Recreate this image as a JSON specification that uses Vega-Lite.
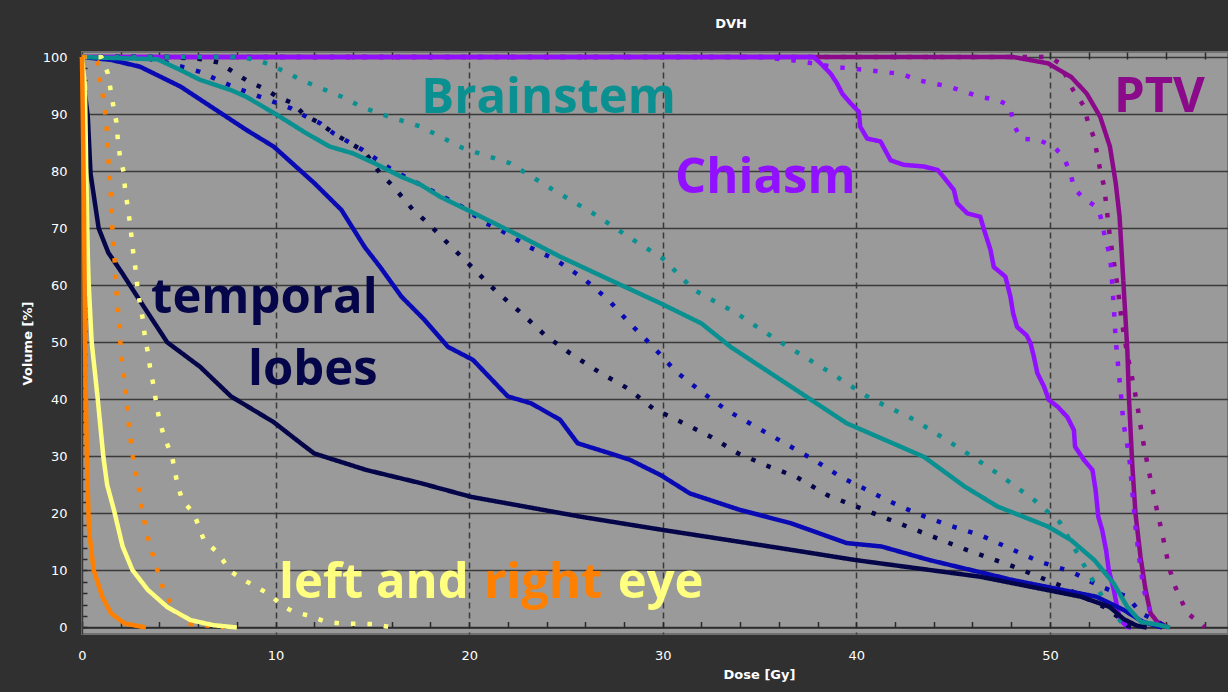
{
  "$schema": "https://vega.github.io/schema/vega-lite/v6.json",
  "width": 1146,
  "height": 582,
  "autosize": {"type": "none"},
  "padding": {"left": 82, "top": 52, "right": 0, "bottom": 58},
  "background": "#303030",
  "title": {"text": "DVH", "color": "#ffffff", "font": "DejaVu Sans", "fontSize": 13, "fontWeight": "bold", "anchor": "middle", "dx": 76, "offset": 20},
  "config": {
    "view": {"fill": "#9a9a9a", "stroke": "#707070", "strokeWidth": 2},
    "axis": {"labelColor": "#ffffff", "labelFont": "DejaVu Sans", "labelFontSize": 13, "titleColor": "#ffffff", "titleFont": "DejaVu Sans", "titleFontSize": 13, "titleFontWeight": "bold", "labelOverlap": false, "labelFlush": false}
  },
  "datasets": {
    "curves": [
      {"s":"PTV","p":"B","d":0,"v":100},{"s":"PTV","p":"B","d":50.0,"v":100},{"s":"PTV","p":"B","d":50.5,"v":98.9},{"s":"PTV","p":"B","d":51.2,"v":94.2},{"s":"PTV","p":"B","d":51.75,"v":91.4},{"s":"PTV","p":"B","d":51.96,"v":88.7},{"s":"PTV","p":"B","d":52.27,"v":85.9},{"s":"PTV","p":"B","d":52.44,"v":83.0},{"s":"PTV","p":"B","d":52.6,"v":80.1},{"s":"PTV","p":"B","d":52.8,"v":77.3},{"s":"PTV","p":"B","d":52.9,"v":74.4},{"s":"PTV","p":"B","d":53.0,"v":71.4},{"s":"PTV","p":"B","d":53.1,"v":68.5},{"s":"PTV","p":"B","d":53.5,"v":59.7},{"s":"PTV","p":"B","d":53.7,"v":53.9},{"s":"PTV","p":"B","d":54.0,"v":47.8},{"s":"PTV","p":"B","d":54.2,"v":44.6},{"s":"PTV","p":"B","d":54.5,"v":39.3},{"s":"PTV","p":"B","d":54.77,"v":33.4},{"s":"PTV","p":"B","d":55.1,"v":27.6},{"s":"PTV","p":"B","d":55.45,"v":21.8},{"s":"PTV","p":"B","d":55.8,"v":16.5},{"s":"PTV","p":"B","d":56.15,"v":10.7},{"s":"PTV","p":"B","d":56.4,"v":7.7},{"s":"PTV","p":"B","d":56.7,"v":5.4},{"s":"PTV","p":"B","d":57.1,"v":2.5},{"s":"PTV","p":"B","d":57.8,"v":0.7},{"s":"PTV","p":"B","d":58.0,"v":0},
      {"s":"PTV","p":"A","d":0,"v":100},{"s":"PTV","p":"A","d":48.1,"v":100},{"s":"PTV","p":"A","d":49.9,"v":98.9},{"s":"PTV","p":"A","d":51.1,"v":96.5},{"s":"PTV","p":"A","d":51.9,"v":93.6},{"s":"PTV","p":"A","d":52.6,"v":89.5},{"s":"PTV","p":"A","d":53.1,"v":84.3},{"s":"PTV","p":"A","d":53.4,"v":77.9},{"s":"PTV","p":"A","d":53.6,"v":72.0},{"s":"PTV","p":"A","d":53.75,"v":63.2},{"s":"PTV","p":"A","d":53.9,"v":54.5},{"s":"PTV","p":"A","d":54.0,"v":48.6},{"s":"PTV","p":"A","d":54.08,"v":40.5},{"s":"PTV","p":"A","d":54.25,"v":28.8},{"s":"PTV","p":"A","d":54.42,"v":20.0},{"s":"PTV","p":"A","d":54.68,"v":12.4},{"s":"PTV","p":"A","d":54.94,"v":6.6},{"s":"PTV","p":"A","d":55.2,"v":2.5},{"s":"PTV","p":"A","d":55.54,"v":1.0},{"s":"PTV","p":"A","d":55.9,"v":0.4},{"s":"PTV","p":"A","d":56.1,"v":0},
      {"s":"Chiasm","p":"B","d":0,"v":100},{"s":"Chiasm","p":"B","d":35.0,"v":100},{"s":"Chiasm","p":"B","d":36.8,"v":99.4},{"s":"Chiasm","p":"B","d":38.8,"v":98.3},{"s":"Chiasm","p":"B","d":40.6,"v":97.7},{"s":"Chiasm","p":"B","d":42.4,"v":97.0},{"s":"Chiasm","p":"B","d":43.1,"v":96.0},{"s":"Chiasm","p":"B","d":44.8,"v":94.8},{"s":"Chiasm","p":"B","d":46.4,"v":93.0},{"s":"Chiasm","p":"B","d":47.3,"v":92.5},{"s":"Chiasm","p":"B","d":47.96,"v":91.3},{"s":"Chiasm","p":"B","d":48.1,"v":88.4},{"s":"Chiasm","p":"B","d":48.5,"v":85.7},{"s":"Chiasm","p":"B","d":49.4,"v":85.5},{"s":"Chiasm","p":"B","d":50.2,"v":84.3},{"s":"Chiasm","p":"B","d":50.7,"v":82.5},{"s":"Chiasm","p":"B","d":51.07,"v":79.6},{"s":"Chiasm","p":"B","d":51.24,"v":77.0},{"s":"Chiasm","p":"B","d":51.75,"v":75.2},{"s":"Chiasm","p":"B","d":52.5,"v":73.5},{"s":"Chiasm","p":"B","d":52.7,"v":70.9},{"s":"Chiasm","p":"B","d":52.87,"v":67.9},{"s":"Chiasm","p":"B","d":53.1,"v":65.3},{"s":"Chiasm","p":"B","d":53.18,"v":62.4},{"s":"Chiasm","p":"B","d":53.24,"v":59.2},{"s":"Chiasm","p":"B","d":53.3,"v":56.2},{"s":"Chiasm","p":"B","d":53.35,"v":53.3},{"s":"Chiasm","p":"B","d":53.4,"v":50.4},{"s":"Chiasm","p":"B","d":53.56,"v":44.6},{"s":"Chiasm","p":"B","d":53.65,"v":41.6},{"s":"Chiasm","p":"B","d":53.8,"v":35.8},{"s":"Chiasm","p":"B","d":54.1,"v":29.9},{"s":"Chiasm","p":"B","d":54.25,"v":24.1},{"s":"Chiasm","p":"B","d":54.4,"v":18.3},{"s":"Chiasm","p":"B","d":54.6,"v":12.4},{"s":"Chiasm","p":"B","d":54.85,"v":6.6},{"s":"Chiasm","p":"B","d":55.2,"v":2.5},{"s":"Chiasm","p":"B","d":55.5,"v":0.5},{"s":"Chiasm","p":"B","d":55.7,"v":0},
      {"s":"Chiasm","p":"A","d":0,"v":100},{"s":"Chiasm","p":"A","d":37.8,"v":100},{"s":"Chiasm","p":"A","d":38.15,"v":98.9},{"s":"Chiasm","p":"A","d":38.67,"v":97.1},{"s":"Chiasm","p":"A","d":39.0,"v":95.4},{"s":"Chiasm","p":"A","d":39.27,"v":93.6},{"s":"Chiasm","p":"A","d":39.7,"v":91.9},{"s":"Chiasm","p":"A","d":40.13,"v":90.4},{"s":"Chiasm","p":"A","d":40.2,"v":87.8},{"s":"Chiasm","p":"A","d":40.56,"v":85.7},{"s":"Chiasm","p":"A","d":41.25,"v":85.2},{"s":"Chiasm","p":"A","d":41.77,"v":81.9},{"s":"Chiasm","p":"A","d":42.45,"v":81.1},{"s":"Chiasm","p":"A","d":43.5,"v":80.8},{"s":"Chiasm","p":"A","d":44.2,"v":80.2},{"s":"Chiasm","p":"A","d":44.5,"v":79.0},{"s":"Chiasm","p":"A","d":45.04,"v":76.7},{"s":"Chiasm","p":"A","d":45.2,"v":74.4},{"s":"Chiasm","p":"A","d":45.73,"v":72.6},{"s":"Chiasm","p":"A","d":46.4,"v":72.0},{"s":"Chiasm","p":"A","d":46.6,"v":69.7},{"s":"Chiasm","p":"A","d":46.93,"v":66.2},{"s":"Chiasm","p":"A","d":47.1,"v":63.2},{"s":"Chiasm","p":"A","d":47.7,"v":61.5},{"s":"Chiasm","p":"A","d":47.96,"v":58.0},{"s":"Chiasm","p":"A","d":48.1,"v":55.1},{"s":"Chiasm","p":"A","d":48.3,"v":52.7},{"s":"Chiasm","p":"A","d":48.8,"v":51.2},{"s":"Chiasm","p":"A","d":49.0,"v":49.8},{"s":"Chiasm","p":"A","d":49.17,"v":47.5},{"s":"Chiasm","p":"A","d":49.35,"v":44.6},{"s":"Chiasm","p":"A","d":49.7,"v":42.2},{"s":"Chiasm","p":"A","d":49.94,"v":39.9},{"s":"Chiasm","p":"A","d":50.4,"v":38.7},{"s":"Chiasm","p":"A","d":50.9,"v":36.9},{"s":"Chiasm","p":"A","d":51.24,"v":34.6},{"s":"Chiasm","p":"A","d":51.3,"v":31.7},{"s":"Chiasm","p":"A","d":51.75,"v":29.4},{"s":"Chiasm","p":"A","d":52.2,"v":27.6},{"s":"Chiasm","p":"A","d":52.36,"v":24.1},{"s":"Chiasm","p":"A","d":52.5,"v":19.4},{"s":"Chiasm","p":"A","d":52.7,"v":17.1},{"s":"Chiasm","p":"A","d":52.9,"v":13.6},{"s":"Chiasm","p":"A","d":53.04,"v":10.1},{"s":"Chiasm","p":"A","d":53.3,"v":6.6},{"s":"Chiasm","p":"A","d":53.5,"v":3.1},{"s":"Chiasm","p":"A","d":53.65,"v":1.3},{"s":"Chiasm","p":"A","d":54.0,"v":0.1},{"s":"Chiasm","p":"A","d":54.2,"v":0},
      {"s":"TL_L","p":"B","d":0,"v":100},{"s":"TL_L","p":"B","d":4.5,"v":100},{"s":"TL_L","p":"B","d":6.3,"v":99.6},{"s":"TL_L","p":"B","d":7.1,"v":99.0},{"s":"TL_L","p":"B","d":7.8,"v":97.4},{"s":"TL_L","p":"B","d":8.6,"v":95.7},{"s":"TL_L","p":"B","d":9.4,"v":94.5},{"s":"TL_L","p":"B","d":10.1,"v":93.0},{"s":"TL_L","p":"B","d":10.9,"v":91.9},{"s":"TL_L","p":"B","d":11.5,"v":89.8},{"s":"TL_L","p":"B","d":12.3,"v":88.4},{"s":"TL_L","p":"B","d":13.0,"v":86.6},{"s":"TL_L","p":"B","d":14.6,"v":83.4},{"s":"TL_L","p":"B","d":15.4,"v":79.6},{"s":"TL_L","p":"B","d":16.0,"v":77.6},{"s":"TL_L","p":"B","d":17.1,"v":73.2},{"s":"TL_L","p":"B","d":17.8,"v":71.1},{"s":"TL_L","p":"B","d":19.0,"v":67.0},{"s":"TL_L","p":"B","d":20.2,"v":63.0},{"s":"TL_L","p":"B","d":21.4,"v":58.9},{"s":"TL_L","p":"B","d":22.7,"v":55.1},{"s":"TL_L","p":"B","d":23.9,"v":51.3},{"s":"TL_L","p":"B","d":25.2,"v":48.1},{"s":"TL_L","p":"B","d":26.7,"v":44.8},{"s":"TL_L","p":"B","d":28.2,"v":41.9},{"s":"TL_L","p":"B","d":29.5,"v":38.4},{"s":"TL_L","p":"B","d":30.9,"v":36.1},{"s":"TL_L","p":"B","d":32.5,"v":33.4},{"s":"TL_L","p":"B","d":33.9,"v":30.5},{"s":"TL_L","p":"B","d":35.5,"v":28.2},{"s":"TL_L","p":"B","d":36.9,"v":26.4},{"s":"TL_L","p":"B","d":38.5,"v":23.2},{"s":"TL_L","p":"B","d":40.9,"v":20.0},{"s":"TL_L","p":"B","d":43.3,"v":16.8},{"s":"TL_L","p":"B","d":45.7,"v":13.6},{"s":"TL_L","p":"B","d":48.1,"v":10.7},{"s":"TL_L","p":"B","d":50.5,"v":7.4},{"s":"TL_L","p":"B","d":52.8,"v":3.6},{"s":"TL_L","p":"B","d":53.5,"v":1.9},{"s":"TL_L","p":"B","d":54.0,"v":0.3},{"s":"TL_L","p":"B","d":54.3,"v":0},
      {"s":"TL_R","p":"B","d":0,"v":100},{"s":"TL_R","p":"B","d":3.0,"v":100},{"s":"TL_R","p":"B","d":4.4,"v":99.0},{"s":"TL_R","p":"B","d":6.1,"v":97.4},{"s":"TL_R","p":"B","d":7.0,"v":96.0},{"s":"TL_R","p":"B","d":7.8,"v":94.8},{"s":"TL_R","p":"B","d":8.5,"v":93.9},{"s":"TL_R","p":"B","d":10.1,"v":91.9},{"s":"TL_R","p":"B","d":10.8,"v":91.0},{"s":"TL_R","p":"B","d":11.6,"v":89.5},{"s":"TL_R","p":"B","d":12.3,"v":88.4},{"s":"TL_R","p":"B","d":13.0,"v":86.6},{"s":"TL_R","p":"B","d":14.5,"v":83.7},{"s":"TL_R","p":"B","d":15.9,"v":80.5},{"s":"TL_R","p":"B","d":16.7,"v":79.0},{"s":"TL_R","p":"B","d":17.5,"v":77.6},{"s":"TL_R","p":"B","d":19.6,"v":73.8},{"s":"TL_R","p":"B","d":20.9,"v":70.8},{"s":"TL_R","p":"B","d":21.6,"v":69.7},{"s":"TL_R","p":"B","d":23.1,"v":66.7},{"s":"TL_R","p":"B","d":24.5,"v":64.4},{"s":"TL_R","p":"B","d":25.9,"v":61.2},{"s":"TL_R","p":"B","d":27.2,"v":57.4},{"s":"TL_R","p":"B","d":28.3,"v":53.3},{"s":"TL_R","p":"B","d":29.5,"v":49.2},{"s":"TL_R","p":"B","d":30.7,"v":44.8},{"s":"TL_R","p":"B","d":32.0,"v":41.3},{"s":"TL_R","p":"B","d":33.3,"v":38.1},{"s":"TL_R","p":"B","d":34.8,"v":35.2},{"s":"TL_R","p":"B","d":36.3,"v":32.3},{"s":"TL_R","p":"B","d":37.8,"v":29.4},{"s":"TL_R","p":"B","d":39.2,"v":26.4},{"s":"TL_R","p":"B","d":41.6,"v":22.3},{"s":"TL_R","p":"B","d":43.1,"v":20.0},{"s":"TL_R","p":"B","d":44.7,"v":18.0},{"s":"TL_R","p":"B","d":46.4,"v":16.2},{"s":"TL_R","p":"B","d":47.9,"v":13.9},{"s":"TL_R","p":"B","d":49.5,"v":11.5},{"s":"TL_R","p":"B","d":51.1,"v":9.8},{"s":"TL_R","p":"B","d":52.6,"v":7.2},{"s":"TL_R","p":"B","d":54.0,"v":5.4},{"s":"TL_R","p":"B","d":54.7,"v":2.5},{"s":"TL_R","p":"B","d":55.6,"v":1.0},{"s":"TL_R","p":"B","d":56.0,"v":0},
      {"s":"Brainstem","p":"B","d":0,"v":100},{"s":"Brainstem","p":"B","d":8.0,"v":100},{"s":"Brainstem","p":"B","d":8.9,"v":99.6},{"s":"Brainstem","p":"B","d":9.7,"v":98.7},{"s":"Brainstem","p":"B","d":10.5,"v":97.4},{"s":"Brainstem","p":"B","d":11.3,"v":96.0},{"s":"Brainstem","p":"B","d":12.8,"v":93.9},{"s":"Brainstem","p":"B","d":13.6,"v":92.8},{"s":"Brainstem","p":"B","d":14.4,"v":91.3},{"s":"Brainstem","p":"B","d":15.9,"v":89.5},{"s":"Brainstem","p":"B","d":17.5,"v":87.8},{"s":"Brainstem","p":"B","d":19.7,"v":84.0},{"s":"Brainstem","p":"B","d":22.1,"v":81.4},{"s":"Brainstem","p":"B","d":24.2,"v":77.0},{"s":"Brainstem","p":"B","d":26.4,"v":72.6},{"s":"Brainstem","p":"B","d":28.5,"v":67.9},{"s":"Brainstem","p":"B","d":30.0,"v":64.7},{"s":"Brainstem","p":"B","d":31.6,"v":59.2},{"s":"Brainstem","p":"B","d":33.8,"v":55.1},{"s":"Brainstem","p":"B","d":35.9,"v":50.4},{"s":"Brainstem","p":"B","d":38.7,"v":44.6},{"s":"Brainstem","p":"B","d":40.7,"v":40.2},{"s":"Brainstem","p":"B","d":43.0,"v":36.4},{"s":"Brainstem","p":"B","d":45.2,"v":31.7},{"s":"Brainstem","p":"B","d":47.3,"v":27.0},{"s":"Brainstem","p":"B","d":49.2,"v":22.3},{"s":"Brainstem","p":"B","d":50.5,"v":18.5},{"s":"Brainstem","p":"B","d":51.7,"v":11.3},{"s":"Brainstem","p":"B","d":52.6,"v":6.0},{"s":"Brainstem","p":"B","d":53.2,"v":3.0},{"s":"Brainstem","p":"B","d":53.8,"v":0.5},{"s":"Brainstem","p":"B","d":54.2,"v":0},
      {"s":"TL_R","p":"A","d":0,"v":100},{"s":"TL_R","p":"A","d":1.5,"v":99.5},{"s":"TL_R","p":"A","d":3.0,"v":98.3},{"s":"TL_R","p":"A","d":5.1,"v":94.8},{"s":"TL_R","p":"A","d":6.8,"v":91.0},{"s":"TL_R","p":"A","d":8.5,"v":87.2},{"s":"TL_R","p":"A","d":9.9,"v":84.3},{"s":"TL_R","p":"A","d":12.0,"v":77.9},{"s":"TL_R","p":"A","d":13.4,"v":73.2},{"s":"TL_R","p":"A","d":14.6,"v":66.7},{"s":"TL_R","p":"A","d":15.4,"v":63.2},{"s":"TL_R","p":"A","d":16.5,"v":58.0},{"s":"TL_R","p":"A","d":17.7,"v":53.9},{"s":"TL_R","p":"A","d":18.9,"v":49.2},{"s":"TL_R","p":"A","d":20.2,"v":46.9},{"s":"TL_R","p":"A","d":22.0,"v":40.5},{"s":"TL_R","p":"A","d":23.2,"v":39.3},{"s":"TL_R","p":"A","d":24.7,"v":36.4},{"s":"TL_R","p":"A","d":25.6,"v":32.3},{"s":"TL_R","p":"A","d":27.3,"v":30.5},{"s":"TL_R","p":"A","d":28.3,"v":29.4},{"s":"TL_R","p":"A","d":29.9,"v":26.7},{"s":"TL_R","p":"A","d":31.4,"v":23.5},{"s":"TL_R","p":"A","d":34.0,"v":20.6},{"s":"TL_R","p":"A","d":36.6,"v":18.3},{"s":"TL_R","p":"A","d":39.5,"v":14.8},{"s":"TL_R","p":"A","d":41.3,"v":14.2},{"s":"TL_R","p":"A","d":43.8,"v":11.8},{"s":"TL_R","p":"A","d":48.1,"v":8.3},{"s":"TL_R","p":"A","d":52.4,"v":5.4},{"s":"TL_R","p":"A","d":53.8,"v":3.1},{"s":"TL_R","p":"A","d":54.8,"v":1.0},{"s":"TL_R","p":"A","d":55.5,"v":0.3},{"s":"TL_R","p":"A","d":55.8,"v":0},
      {"s":"TL_L","p":"A","d":0,"v":100},{"s":"TL_L","p":"A","d":0.1,"v":95},{"s":"TL_L","p":"A","d":0.3,"v":89.5},{"s":"TL_L","p":"A","d":0.44,"v":79.6},{"s":"TL_L","p":"A","d":0.86,"v":70},{"s":"TL_L","p":"A","d":1.36,"v":65.7},{"s":"TL_L","p":"A","d":2.08,"v":62.1},{"s":"TL_L","p":"A","d":2.4,"v":60.4},{"s":"TL_L","p":"A","d":3.2,"v":56.2},{"s":"TL_L","p":"A","d":4.4,"v":50},{"s":"TL_L","p":"A","d":6.1,"v":45.7},{"s":"TL_L","p":"A","d":7.7,"v":40.5},{"s":"TL_L","p":"A","d":9.9,"v":36},{"s":"TL_L","p":"A","d":11.3,"v":32.3},{"s":"TL_L","p":"A","d":12.0,"v":30.5},{"s":"TL_L","p":"A","d":14.7,"v":27.6},{"s":"TL_L","p":"A","d":17.5,"v":25.3},{"s":"TL_L","p":"A","d":20.1,"v":22.9},{"s":"TL_L","p":"A","d":25.8,"v":19.4},{"s":"TL_L","p":"A","d":30.0,"v":17.1},{"s":"TL_L","p":"A","d":36.1,"v":13.9},{"s":"TL_L","p":"A","d":40.0,"v":11.8},{"s":"TL_L","p":"A","d":46.4,"v":8.9},{"s":"TL_L","p":"A","d":51.6,"v":5.4},{"s":"TL_L","p":"A","d":53.1,"v":3.6},{"s":"TL_L","p":"A","d":53.8,"v":1.5},{"s":"TL_L","p":"A","d":54.5,"v":0.3},{"s":"TL_L","p":"A","d":55.0,"v":0},
      {"s":"Brainstem","p":"A","d":0,"v":100},{"s":"Brainstem","p":"A","d":3.9,"v":99.6},{"s":"Brainstem","p":"A","d":5.1,"v":97.7},{"s":"Brainstem","p":"A","d":6.1,"v":96.0},{"s":"Brainstem","p":"A","d":7.7,"v":94.2},{"s":"Brainstem","p":"A","d":8.5,"v":93.0},{"s":"Brainstem","p":"A","d":10.1,"v":89.8},{"s":"Brainstem","p":"A","d":11.6,"v":86.6},{"s":"Brainstem","p":"A","d":12.8,"v":84.3},{"s":"Brainstem","p":"A","d":14.0,"v":83.1},{"s":"Brainstem","p":"A","d":15.1,"v":81.4},{"s":"Brainstem","p":"A","d":16.5,"v":79.0},{"s":"Brainstem","p":"A","d":17.5,"v":77.6},{"s":"Brainstem","p":"A","d":18.5,"v":75.5},{"s":"Brainstem","p":"A","d":19.9,"v":73.2},{"s":"Brainstem","p":"A","d":22.7,"v":68.5},{"s":"Brainstem","p":"A","d":24.7,"v":65.0},{"s":"Brainstem","p":"A","d":27.1,"v":61.2},{"s":"Brainstem","p":"A","d":29.9,"v":56.8},{"s":"Brainstem","p":"A","d":32.0,"v":53.3},{"s":"Brainstem","p":"A","d":33.5,"v":49.2},{"s":"Brainstem","p":"A","d":36.1,"v":43.4},{"s":"Brainstem","p":"A","d":39.5,"v":35.8},{"s":"Brainstem","p":"A","d":43.5,"v":29.9},{"s":"Brainstem","p":"A","d":45.6,"v":24.7},{"s":"Brainstem","p":"A","d":47.3,"v":21.2},{"s":"Brainstem","p":"A","d":49.9,"v":17.7},{"s":"Brainstem","p":"A","d":51.1,"v":15.3},{"s":"Brainstem","p":"A","d":52.3,"v":11.8},{"s":"Brainstem","p":"A","d":53.3,"v":7.7},{"s":"Brainstem","p":"A","d":54.0,"v":3.6},{"s":"Brainstem","p":"A","d":54.7,"v":1.0},{"s":"Brainstem","p":"A","d":55.7,"v":0.4},{"s":"Brainstem","p":"A","d":56.2,"v":0},
      {"s":"Eye_L","p":"B","d":0,"v":100},{"s":"Eye_L","p":"B","d":1.0,"v":100},{"s":"Eye_L","p":"B","d":1.34,"v":97.1},{"s":"Eye_L","p":"B","d":1.48,"v":94.2},{"s":"Eye_L","p":"B","d":1.62,"v":91.4},{"s":"Eye_L","p":"B","d":1.77,"v":88.7},{"s":"Eye_L","p":"B","d":1.85,"v":85.6},{"s":"Eye_L","p":"B","d":1.96,"v":82.6},{"s":"Eye_L","p":"B","d":2.16,"v":79.7},{"s":"Eye_L","p":"B","d":2.22,"v":77.0},{"s":"Eye_L","p":"B","d":2.34,"v":74.2},{"s":"Eye_L","p":"B","d":2.46,"v":71.3},{"s":"Eye_L","p":"B","d":2.56,"v":68.5},{"s":"Eye_L","p":"B","d":2.65,"v":65.6},{"s":"Eye_L","p":"B","d":2.77,"v":62.7},{"s":"Eye_L","p":"B","d":2.86,"v":59.7},{"s":"Eye_L","p":"B","d":2.99,"v":56.8},{"s":"Eye_L","p":"B","d":3.15,"v":53.9},{"s":"Eye_L","p":"B","d":3.25,"v":50.9},{"s":"Eye_L","p":"B","d":3.42,"v":47.9},{"s":"Eye_L","p":"B","d":3.54,"v":45.0},{"s":"Eye_L","p":"B","d":3.71,"v":42.2},{"s":"Eye_L","p":"B","d":3.84,"v":39.2},{"s":"Eye_L","p":"B","d":4.0,"v":36.3},{"s":"Eye_L","p":"B","d":4.23,"v":33.6},{"s":"Eye_L","p":"B","d":4.65,"v":30.0},{"s":"Eye_L","p":"B","d":4.92,"v":25.3},{"s":"Eye_L","p":"B","d":5.18,"v":22.3},{"s":"Eye_L","p":"B","d":5.78,"v":20.0},{"s":"Eye_L","p":"B","d":6.3,"v":15.3},{"s":"Eye_L","p":"B","d":6.99,"v":13.2},{"s":"Eye_L","p":"B","d":7.68,"v":9.8},{"s":"Eye_L","p":"B","d":8.54,"v":8.0},{"s":"Eye_L","p":"B","d":9.74,"v":5.7},{"s":"Eye_L","p":"B","d":10.3,"v":3.9},{"s":"Eye_L","p":"B","d":10.9,"v":2.8},{"s":"Eye_L","p":"B","d":11.8,"v":2.0},{"s":"Eye_L","p":"B","d":12.6,"v":1.0},{"s":"Eye_L","p":"B","d":13.4,"v":0.7},{"s":"Eye_L","p":"B","d":15.1,"v":0.6},{"s":"Eye_L","p":"B","d":16.0,"v":0},
      {"s":"Eye_R","p":"B","d":0,"v":100},{"s":"Eye_R","p":"B","d":0.5,"v":100},{"s":"Eye_R","p":"B","d":0.8,"v":99.2},{"s":"Eye_R","p":"B","d":0.87,"v":96.9},{"s":"Eye_R","p":"B","d":1.05,"v":94.0},{"s":"Eye_R","p":"B","d":1.17,"v":91.0},{"s":"Eye_R","p":"B","d":1.27,"v":88.1},{"s":"Eye_R","p":"B","d":1.3,"v":85.2},{"s":"Eye_R","p":"B","d":1.36,"v":82.2},{"s":"Eye_R","p":"B","d":1.42,"v":79.3},{"s":"Eye_R","p":"B","d":1.48,"v":76.4},{"s":"Eye_R","p":"B","d":1.52,"v":73.5},{"s":"Eye_R","p":"B","d":1.56,"v":70.6},{"s":"Eye_R","p":"B","d":1.6,"v":67.6},{"s":"Eye_R","p":"B","d":1.68,"v":64.7},{"s":"Eye_R","p":"B","d":1.72,"v":61.8},{"s":"Eye_R","p":"B","d":1.78,"v":58.9},{"s":"Eye_R","p":"B","d":1.85,"v":56.0},{"s":"Eye_R","p":"B","d":1.94,"v":53.0},{"s":"Eye_R","p":"B","d":1.98,"v":50.1},{"s":"Eye_R","p":"B","d":2.05,"v":47.2},{"s":"Eye_R","p":"B","d":2.16,"v":44.3},{"s":"Eye_R","p":"B","d":2.25,"v":41.3},{"s":"Eye_R","p":"B","d":2.34,"v":38.4},{"s":"Eye_R","p":"B","d":2.42,"v":35.5},{"s":"Eye_R","p":"B","d":2.51,"v":32.9},{"s":"Eye_R","p":"B","d":2.63,"v":29.9},{"s":"Eye_R","p":"B","d":2.77,"v":27.3},{"s":"Eye_R","p":"B","d":2.94,"v":24.4},{"s":"Eye_R","p":"B","d":3.03,"v":21.8},{"s":"Eye_R","p":"B","d":3.37,"v":16.2},{"s":"Eye_R","p":"B","d":3.8,"v":11.0},{"s":"Eye_R","p":"B","d":4.3,"v":5.7},{"s":"Eye_R","p":"B","d":5.0,"v":2.5},{"s":"Eye_R","p":"B","d":5.4,"v":0.7},{"s":"Eye_R","p":"B","d":6.3,"v":0.4},{"s":"Eye_R","p":"B","d":7.3,"v":0},
      {"s":"Eye_L","p":"A","d":0,"v":100},{"s":"Eye_L","p":"A","d":0.15,"v":95},{"s":"Eye_L","p":"A","d":0.22,"v":80},{"s":"Eye_L","p":"A","d":0.3,"v":65},{"s":"Eye_L","p":"A","d":0.35,"v":60},{"s":"Eye_L","p":"A","d":0.5,"v":50},{"s":"Eye_L","p":"A","d":0.8,"v":40.5},{"s":"Eye_L","p":"A","d":1.1,"v":30},{"s":"Eye_L","p":"A","d":1.3,"v":25},{"s":"Eye_L","p":"A","d":1.65,"v":20.6},{"s":"Eye_L","p":"A","d":2.1,"v":14.2},{"s":"Eye_L","p":"A","d":2.6,"v":10.1},{"s":"Eye_L","p":"A","d":3.4,"v":6.6},{"s":"Eye_L","p":"A","d":4.4,"v":3.6},{"s":"Eye_L","p":"A","d":5.6,"v":1.3},{"s":"Eye_L","p":"A","d":6.8,"v":0.4},{"s":"Eye_L","p":"A","d":8.0,"v":0},
      {"s":"Eye_R","p":"A","d":0,"v":100},{"s":"Eye_R","p":"A","d":0.1,"v":75},{"s":"Eye_R","p":"A","d":0.15,"v":52},{"s":"Eye_R","p":"A","d":0.25,"v":30},{"s":"Eye_R","p":"A","d":0.36,"v":17.1},{"s":"Eye_R","p":"A","d":0.6,"v":10.1},{"s":"Eye_R","p":"A","d":1.05,"v":5.4},{"s":"Eye_R","p":"A","d":1.5,"v":2.5},{"s":"Eye_R","p":"A","d":2.2,"v":0.7},{"s":"Eye_R","p":"A","d":3.3,"v":0}
    ],
    "labels": [
      {"t":"Brainstem","s":"Brainstem","x":24.1,"y":90.1,"a":"c"},
      {"t":"Chiasm","s":"Chiasm","x":35.3,"y":76.1,"a":"c"},
      {"t":"PTV","s":"PTV","x":55.66,"y":90.4,"a":"c"},
      {"t":"left and","s":"Eye_L","x":15.08,"y":5.1,"a":"c"},
      {"t":"right","s":"Eye_R","x":23.82,"y":5.1,"a":"c"},
      {"t":"eye","s":"Eye_L","x":29.89,"y":5.1,"a":"c"},
      {"t":"temporal","s":"TL_L","x":15.27,"y":55.1,"a":"r"},
      {"t":"lobes","s":"TL_L","x":15.27,"y":42.5,"a":"r"}
    ]
  },
  "resolve": {"axis": {"x": "independent"}},
  "layer": [
    {
      "data": {"name": "curves"},
      "mark": {"type": "line", "strokeWidth": 4.5, "strokeCap": "butt", "strokeJoin": "round"},
      "encoding": {
        "x": {"field": "d", "type": "quantitative", "scale": {"domain": [0, 59.2], "nice": false, "zero": false},
          "axis": {"title": "Dose [Gy]", "titleX": 677, "titlePadding": 6, "offset": -6.5, "tickCount": 100, "format": "d", "values": [0,2,4,6,8,10,12,14,16,18,20,22,24,26,28,30,32,34,36,38,40,42,44,46,48,50,52,54,56,58],
            "labelExpr": "datum.value % 10 === 0 ? datum.label : ''", "labelPadding": 28, "tickSize": -6, "tickColor": "#2a2a2a", "tickWidth": 1.5,
            "domainColor": "#2a2a2a", "domainWidth": 1.5,
            "grid": true, "gridColor": "#3a3a3a", "gridWidth": 1.5, "gridDash": [6, 4],
            "gridOpacity": {"condition": {"test": "datum.value % 10 === 0 && datum.value > 0", "value": 1}, "value": 0}}},
        "y": {"field": "v", "type": "quantitative", "scale": {"domain": [-1.14, 100.88], "nice": false, "zero": false},
          "axis": {"title": "Volume [%]", "titlePadding": 8, "tickCount": 100, "format": "d", "values": [0,2,4,6,8,10,12,14,16,18,20,22,24,26,28,30,32,34,36,38,40,42,44,46,48,50,52,54,56,58,60,62,64,66,68,70,72,74,76,78,80,82,84,86,88,90,92,94,96,98,100],
            "labelExpr": "datum.value % 10 === 0 ? datum.label : ''", "labelPadding": 20, "tickSize": -5, "tickColor": "#2a2a2a", "tickWidth": 1.5,
            "domainColor": "#3a3a3a", "domainWidth": 1.5,
            "grid": true, "gridColor": "#3a3a3a", "gridWidth": 1.5,
            "gridOpacity": {"condition": {"test": "datum.value % 10 === 0", "value": 1}, "value": 0}}},
        "color": {"field": "s", "type": "nominal", "legend": null,
          "scale": {"domain": ["PTV","Chiasm","Brainstem","TL_L","TL_R","Eye_L","Eye_R"], "range": ["#8a0a8a","#9010ff","#0a9090","#05054a","#0a0ab4","#ffff80","#ff8000"]}},
        "strokeDash": {"field": "p", "type": "nominal", "legend": null, "scale": {"domain": ["A","B"], "range": [[1,0],[4.5,12]]}},
        "detail": {"field": "p"}
      }
    },
    {
      "data": {"name": "labels"},
      "transform": [{"filter": "datum.a === 'c'"}],
      "mark": {"type": "text", "font": "Open Sans", "fontWeight": "bold", "fontSize": 49, "align": "center", "baseline": "alphabetic"},
      "encoding": {
        "x": {"field": "x", "type": "quantitative", "axis": {"orient": "top", "title": null, "labels": false, "grid": false, "domain": false, "tickSize": -7, "tickCount": 100, "tickColor": "#2a2a2a", "tickWidth": 1.5, "values": [2,4,6,8,10,12,14,16,18,20,22,24,26,28,30,32,34,36,38,40,42,44,46,48,50,52,54,56,58]}},
        "y": {"field": "y", "type": "quantitative"},
        "text": {"field": "t"},
        "color": {"field": "s", "type": "nominal", "legend": null}
      }
    },
    {
      "data": {"name": "labels"},
      "transform": [{"filter": "datum.a === 'r'"}],
      "mark": {"type": "text", "font": "Open Sans", "fontWeight": "bold", "fontSize": 49, "align": "right", "baseline": "alphabetic"},
      "encoding": {
        "x": {"field": "x", "type": "quantitative", "axis": null},
        "y": {"field": "y", "type": "quantitative"},
        "text": {"field": "t"},
        "color": {"field": "s", "type": "nominal", "legend": null}
      }
    }
  ]
}
